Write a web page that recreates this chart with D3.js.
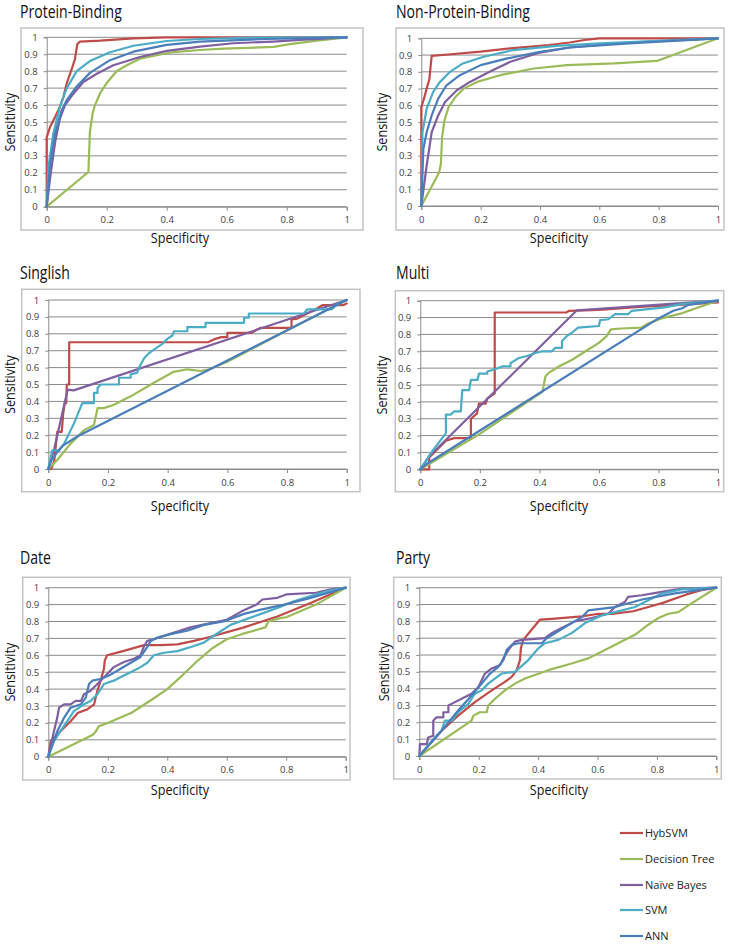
<!DOCTYPE html>
<html><head><meta charset="utf-8">
<script src="https://cdn.jsdelivr.net/npm/d3@7"></script>
<style>body{margin:0;background:#fff}svg{display:block}</style>
</head><body>
<script>
// ---- series / categories ----
const seriesNames = ["HybSVM","Decision Tree","Naïve Bayes","SVM","ANN"];
const seriesColors = ["#BE4B48","#9BBB59","#7F5FA0","#4BACC6","#4A7EBB"];
const panelTitles = ["Protein-Binding","Non-Protein-Binding","Singlish","Multi","Date","Party"];
const xTicks = [0,0.2,0.4,0.6,0.8,1];
const yTicks = [0,0.1,0.2,0.3,0.4,0.5,0.6,0.7,0.8,0.9,1];
const xTitle = "Specificity", yTitle = "Sensitivity";

// ---- Protein-Binding ----
const pbHyb = [[0,0],[0,0.41],[0.011,0.47],[0.028,0.53],[0.044,0.59],[0.056,0.65],[0.067,0.73],[0.083,0.81],[0.094,0.87],[0.102,0.96],[0.111,0.975],[0.178,0.98],[0.29,0.994],[0.4,1],[1,1]];
const pbDT = [[0,0],[0.139,0.205],[0.144,0.44],[0.153,0.55],[0.161,0.6],[0.178,0.67],[0.2,0.73],[0.233,0.8],[0.267,0.835],[0.311,0.874],[0.367,0.894],[0.422,0.913],[0.511,0.925],[0.589,0.933],[0.756,0.943],[0.811,0.96],[0.9,0.98],[1,1]];
const pbNB = [[0,0],[0.011,0.165],[0.028,0.38],[0.044,0.52],[0.061,0.6],[0.089,0.667],[0.122,0.736],[0.167,0.785],[0.222,0.835],[0.311,0.884],[0.4,0.92],[0.511,0.945],[0.622,0.965],[0.756,0.975],[0.844,0.985],[1,1]];
const pbSVM = [[0,0],[0.006,0.24],[0.022,0.43],[0.044,0.59],[0.067,0.70],[0.1,0.8],[0.144,0.86],[0.211,0.912],[0.289,0.95],[0.4,0.978],[0.511,0.99],[0.7,0.998],[1,1]];
const pbANN = [[0,0],[0.011,0.24],[0.028,0.43],[0.05,0.57],[0.067,0.63],[0.1,0.71],[0.144,0.79],[0.211,0.865],[0.289,0.915],[0.4,0.955],[0.511,0.975],[0.733,0.99],[1,1]];

// ---- Non-Protein-Binding ----
const npHyb = [[0,0],[0,0.59],[0.009,0.64],[0.018,0.70],[0.027,0.755],[0.035,0.895],[0.1,0.905],[0.2,0.92],[0.3,0.94],[0.43,0.96],[0.5,0.975],[0.55,0.99],[0.6,1],[1,1]];
const npDT = [[0,0],[0.06,0.2],[0.066,0.25],[0.07,0.41],[0.078,0.51],[0.092,0.59],[0.115,0.65],[0.143,0.70],[0.188,0.74],[0.266,0.78],[0.379,0.82],[0.49,0.84],[0.65,0.85],[0.794,0.865],[1,1]];
const npNB = [[0,0],[0.018,0.24],[0.035,0.44],[0.057,0.54],[0.08,0.62],[0.12,0.69],[0.164,0.74],[0.23,0.80],[0.3,0.86],[0.4,0.915],[0.5,0.945],[0.7,0.975],[1,1]];
const npSVM = [[0,0],[0.004,0.44],[0.018,0.58],[0.04,0.68],[0.063,0.74],[0.097,0.80],[0.14,0.85],[0.21,0.89],[0.31,0.93],[0.456,0.955],[0.6,0.97],[0.8,0.985],[1,1]];
const npANN = [[0,0],[0.007,0.34],[0.018,0.44],[0.035,0.54],[0.057,0.64],[0.085,0.72],[0.13,0.78],[0.2,0.84],[0.29,0.88],[0.4,0.92],[0.5,0.945],[0.7,0.97],[1,1]];

// ---- Singlish ----
const sgHyb = [[0,0],[0.01,0],[0.02,0.05],[0.03,0.22],[0.045,0.22],[0.05,0.33],[0.055,0.39],[0.06,0.39],[0.062,0.5],[0.07,0.5],[0.07,0.75],[0.535,0.75],[0.56,0.77],[0.58,0.78],[0.6,0.78],[0.6,0.805],[0.68,0.805],[0.71,0.835],[0.815,0.835],[0.815,0.885],[0.835,0.89],[0.9,0.95],[0.92,0.97],[0.99,0.97],[1,0.98]];
const sgDT = [[0,0],[0.03,0.053],[0.075,0.15],[0.12,0.23],[0.153,0.26],[0.165,0.36],[0.186,0.36],[0.22,0.38],[0.276,0.43],[0.354,0.51],[0.42,0.575],[0.466,0.59],[0.51,0.58],[0.54,0.59],[0.6,0.635],[0.8,0.82],[1,1]];
const sgNB = [[0,0],[0.02,0.12],[0.065,0.47],[0.085,0.465],[1,1]];
const sgSVM = [[0,0],[0.008,0.07],[0.013,0.11],[0.036,0.11],[0.053,0.15],[0.086,0.27],[0.114,0.39],[0.153,0.39],[0.153,0.45],[0.165,0.45],[0.165,0.48],[0.176,0.5],[0.237,0.5],[0.237,0.54],[0.276,0.54],[0.276,0.56],[0.298,0.57],[0.304,0.6],[0.315,0.635],[0.321,0.655],[0.337,0.685],[0.349,0.7],[0.365,0.72],[0.382,0.74],[0.399,0.77],[0.416,0.79],[0.421,0.815],[0.466,0.815],[0.466,0.84],[0.527,0.84],[0.527,0.865],[0.656,0.865],[0.656,0.895],[0.672,0.895],[0.672,0.92],[0.857,0.92],[0.868,0.945],[0.95,0.945],[0.969,0.975],[1,1]];
const sgANN = [[0,0],[0.01,0.05],[0.03,0.1],[0.05,0.14],[0.1,0.195],[1,1]];

// ---- Multi ----
const muHyb = [[0,0],[0.03,0],[0.03,0.07],[0.086,0.17],[0.114,0.185],[0.17,0.185],[0.17,0.30],[0.19,0.33],[0.197,0.39],[0.22,0.39],[0.225,0.42],[0.25,0.45],[0.25,0.93],[0.49,0.93],[0.5,0.94],[0.6,0.945],[0.75,0.965],[0.87,0.975],[1,0.99]];
const muDT = [[0,0],[0.2,0.21],[0.41,0.46],[0.415,0.5],[0.42,0.55],[0.43,0.57],[0.465,0.61],[0.51,0.65],[0.555,0.70],[0.6,0.75],[0.626,0.79],[0.64,0.83],[0.675,0.835],[0.742,0.84],[0.765,0.865],[0.81,0.895],[0.877,0.925],[0.943,0.966],[1,1]];
const muNB = [[0,0],[0.03,0.077],[0.526,0.943],[1,1]];
const muSVM = [[0,0],[0.036,0.097],[0.086,0.215],[0.086,0.324],[0.102,0.324],[0.114,0.344],[0.136,0.344],[0.141,0.47],[0.164,0.47],[0.17,0.53],[0.192,0.53],[0.197,0.567],[0.225,0.567],[0.225,0.58],[0.253,0.595],[0.275,0.61],[0.303,0.61],[0.303,0.63],[0.331,0.66],[0.359,0.672],[0.387,0.69],[0.41,0.7],[0.442,0.7],[0.453,0.72],[0.476,0.72],[0.476,0.76],[0.492,0.79],[0.509,0.81],[0.53,0.84],[0.6,0.85],[0.604,0.885],[0.632,0.89],[0.654,0.92],[0.698,0.92],[0.71,0.94],[0.765,0.95],[0.82,0.96],[0.877,0.98],[1,1]];
const muANN = [[0,0],[0.02,0.03],[0.8,0.895],[0.85,0.94],[0.88,0.955],[0.9,0.975],[1,1]];

// ---- Date ----
const dtHyb = [[0,0],[0.008,0.09],[0.041,0.15],[0.075,0.21],[0.1,0.26],[0.131,0.28],[0.154,0.31],[0.165,0.39],[0.176,0.45],[0.187,0.52],[0.19,0.57],[0.198,0.6],[0.254,0.626],[0.322,0.66],[0.378,0.66],[0.434,0.665],[0.49,0.685],[0.546,0.71],[0.658,0.765],[0.77,0.83],[0.882,0.91],[1,1]];
const dtDT = [[0,0],[0.15,0.13],[0.16,0.15],[0.17,0.18],[0.2,0.2],[0.28,0.26],[0.35,0.34],[0.4,0.4],[0.45,0.48],[0.5,0.565],[0.55,0.64],[0.6,0.695],[0.65,0.725],[0.73,0.765],[0.74,0.8],[0.78,0.82],[0.8,0.825],[0.9,0.9],[1,1]];
const dtNB = [[0,0],[0.019,0.15],[0.03,0.23],[0.036,0.29],[0.053,0.31],[0.075,0.31],[0.092,0.33],[0.11,0.33],[0.12,0.37],[0.142,0.39],[0.165,0.43],[0.198,0.49],[0.22,0.53],[0.254,0.56],[0.288,0.58],[0.31,0.6],[0.322,0.655],[0.333,0.685],[0.355,0.695],[0.389,0.715],[0.434,0.74],[0.478,0.765],[0.546,0.79],[0.6,0.81],[0.62,0.83],[0.65,0.86],[0.7,0.9],[0.72,0.93],[0.77,0.94],[0.8,0.96],[0.9,0.97],[0.95,0.99],[1,1]];
const dtSVM = [[0,0],[0.019,0.09],[0.04,0.15],[0.064,0.21],[0.086,0.27],[0.12,0.31],[0.142,0.33],[0.165,0.37],[0.187,0.43],[0.22,0.45],[0.254,0.48],[0.277,0.5],[0.31,0.53],[0.333,0.556],[0.355,0.6],[0.389,0.615],[0.434,0.625],[0.49,0.655],[0.523,0.675],[0.56,0.72],[0.613,0.78],[0.715,0.845],[0.77,0.88],[0.826,0.92],[0.882,0.95],[0.938,0.98],[1,1]];
const dtANN = [[0,0],[0.013,0.07],[0.03,0.15],[0.053,0.23],[0.075,0.29],[0.109,0.31],[0.126,0.35],[0.137,0.43],[0.148,0.45],[0.176,0.46],[0.204,0.48],[0.243,0.52],[0.31,0.59],[0.333,0.65],[0.344,0.685],[0.367,0.705],[0.411,0.725],[0.467,0.745],[0.523,0.78],[0.59,0.8],[0.658,0.845],[0.715,0.87],[0.793,0.9],[0.882,0.94],[1,1]];

// ---- Party ----
const ptHyb = [[0,0],[0.075,0.15],[0.131,0.24],[0.187,0.32],[0.244,0.39],[0.288,0.44],[0.311,0.47],[0.328,0.51],[0.339,0.57],[0.342,0.64],[0.35,0.69],[0.378,0.75],[0.406,0.81],[0.446,0.815],[0.547,0.83],[0.603,0.845],[0.65,0.845],[0.72,0.86],[0.78,0.89],[0.82,0.91],[0.9,0.96],[0.95,0.985],[1,1]];
const ptDT = [[0,0],[0.176,0.21],[0.182,0.24],[0.204,0.26],[0.227,0.26],[0.232,0.30],[0.255,0.34],[0.288,0.39],[0.322,0.43],[0.356,0.46],[0.434,0.51],[0.513,0.55],[0.569,0.58],[0.625,0.63],[0.681,0.68],[0.726,0.72],[0.771,0.78],[0.805,0.82],[0.839,0.845],[0.872,0.855],[0.906,0.895],[1,1]];
const ptNB = [[0,0],[0.002,0.07],[0.025,0.07],[0.03,0.11],[0.047,0.12],[0.047,0.21],[0.058,0.23],[0.081,0.23],[0.081,0.26],[0.098,0.26],[0.098,0.3],[0.12,0.32],[0.154,0.35],[0.176,0.37],[0.199,0.41],[0.221,0.49],[0.244,0.52],[0.272,0.54],[0.283,0.58],[0.3,0.63],[0.322,0.68],[0.345,0.69],[0.423,0.70],[0.446,0.73],[0.479,0.76],[0.524,0.8],[0.58,0.82],[0.636,0.845],[0.659,0.885],[0.692,0.915],[0.703,0.945],[0.749,0.955],[0.816,0.975],[0.883,0.994],[1,1]];
const ptSVM = [[0,0],[0.042,0.09],[0.075,0.15],[0.086,0.21],[0.11,0.21],[0.131,0.26],[0.165,0.31],[0.187,0.37],[0.21,0.39],[0.232,0.43],[0.277,0.49],[0.322,0.5],[0.367,0.57],[0.401,0.64],[0.423,0.67],[0.468,0.69],[0.513,0.73],[0.558,0.79],[0.614,0.835],[0.659,0.855],[0.726,0.885],[0.816,0.965],[0.883,0.99],[1,1]];
const ptANN = [[0,0],[0.075,0.15],[0.131,0.27],[0.176,0.36],[0.21,0.43],[0.238,0.49],[0.266,0.53],[0.283,0.57],[0.294,0.63],[0.311,0.66],[0.333,0.67],[0.412,0.67],[0.429,0.7],[0.513,0.79],[0.547,0.825],[0.569,0.865],[0.659,0.885],[0.75,0.93],[0.861,0.966],[1,1]];

const panelSeries = [
  [pbHyb,pbDT,pbNB,pbSVM,pbANN],
  [npHyb,npDT,npNB,npSVM,npANN],
  [sgHyb,sgDT,sgNB,sgSVM,sgANN],
  [muHyb,muDT,muNB,muSVM,muANN],
  [dtHyb,dtDT,dtNB,dtSVM,dtANN],
  [ptHyb,ptDT,ptNB,ptSVM,ptANN]
];

// ---- layout (pixel geometry) ----
const layout = [
  {frame:[21,28,363,230], plot:[46.7,37.3,346.7,206.7], title:[20,18], ylab:10, xlab:[180,243]},
  {frame:[396,28,724,230], plot:[421.3,38.3,718,206], title:[396,18], ylab:382, xlab:[559,243]},
  {frame:[21.7,289.3,360,491.7], plot:[48.3,300,346.7,469], title:[20,279], ylab:10, xlab:[180,511]},
  {frame:[395.3,290.7,723.7,491.7], plot:[420.3,300.7,718,469.3], title:[396,279], ylab:382, xlab:[559,511]},
  {frame:[22.7,577.3,350,780], plot:[48.3,587.7,345.7,756.7], title:[20,564], ylab:10, xlab:[180,795]},
  {frame:[393.7,577.3,721.3,779], plot:[419.3,587.7,716.3,756], title:[396,564], ylab:384, xlab:[559,795]}
];

const W = 735, H = 944;
const svg = d3.select("body").append("svg").attr("width",W).attr("height",H);
const font = "'Open Sans', 'DejaVu Sans', sans-serif";

function condense(sel, factor){
  sel.each(function(){
    const w = this.getComputedTextLength();
    d3.select(this).attr("textLength", w*factor).attr("lengthAdjust","spacingAndGlyphs");
  });
}

layout.forEach((L,i)=>{
  const g = svg.append("g");
  const [fx0,fy0,fx1,fy1] = L.frame;
  g.append("rect").attr("x",fx0).attr("y",fy0).attr("width",fx1-fx0).attr("height",fy1-fy0)
    .attr("fill","#fff").attr("stroke","#c4c4c4").attr("stroke-width",1.5);
  const [px0,py0,px1,py1] = L.plot;
  const x = d3.scaleLinear().domain([0,1]).range([px0,px1]);
  const y = d3.scaleLinear().domain([0,1]).range([py1,py0]);

  // gridlines
  g.append("g").selectAll("line").data(yTicks).join("line")
    .attr("x1",px0).attr("x2",px1).attr("y1",d=>y(d)).attr("y2",d=>y(d))
    .attr("stroke","#8a8a8a").attr("stroke-width",1);

  // axes
  const ya = g.append("g").attr("transform",`translate(${px0},0)`)
    .call(d3.axisLeft(y).tickValues(yTicks).tickFormat(d3.format("~g")).tickSize(3).tickPadding(6));
  const xa = g.append("g").attr("transform",`translate(0,${py1})`)
    .call(d3.axisBottom(x).tickValues(xTicks).tickFormat(d3.format("~g")).tickSize(4).tickPadding(6));
  [ya,xa].forEach(a=>{
    a.select(".domain").attr("stroke","#8a8a8a");
    a.selectAll(".tick line").attr("stroke","#8a8a8a");
    a.selectAll("text").attr("fill","#404040").style("font-family",font).style("font-size","9.5px");
  });

  // series
  const line = d3.line().x(d=>x(d[0])).y(d=>y(d[1]));
  panelSeries[i].forEach((s,k)=>{
    g.append("path").attr("d",line(s)).attr("fill","none")
      .attr("stroke",seriesColors[k]).attr("stroke-width",2.2)
      .attr("stroke-linejoin","round").attr("stroke-linecap","round");
  });

  // titles
  const t = g.append("text").attr("x",L.title[0]).attr("y",L.title[1]).text(panelTitles[i])
    .style("font-family",font).style("font-size","18px").attr("fill","#111");
  condense(t, 0.78);
  const yl = g.append("text").attr("transform",`translate(${L.ylab+5},${(py0+py1)/2}) rotate(-90)`)
    .attr("text-anchor","middle").text(yTitle)
    .style("font-family",font).style("font-size","14px").attr("fill","#111");
  condense(yl, 0.9);
  const xl = g.append("text").attr("x",L.xlab[0]).attr("y",L.xlab[1]).attr("text-anchor","middle").text(xTitle)
    .style("font-family",font).style("font-size","14px").attr("fill","#111");
  condense(xl, 0.9);
});

// legend
const leg = svg.append("g");
const legY = [833,859,885,910,936];
seriesNames.forEach((n,k)=>{
  leg.append("line").attr("x1",620).attr("x2",643).attr("y1",legY[k]).attr("y2",legY[k])
    .attr("stroke",seriesColors[k]).attr("stroke-width",2.2);
  leg.append("text").attr("x",645).attr("y",legY[k]).attr("dy","0.35em").text(n)
    .style("font-family",font).style("font-size","11px").attr("fill","#222");
});
</script>
</body></html>
